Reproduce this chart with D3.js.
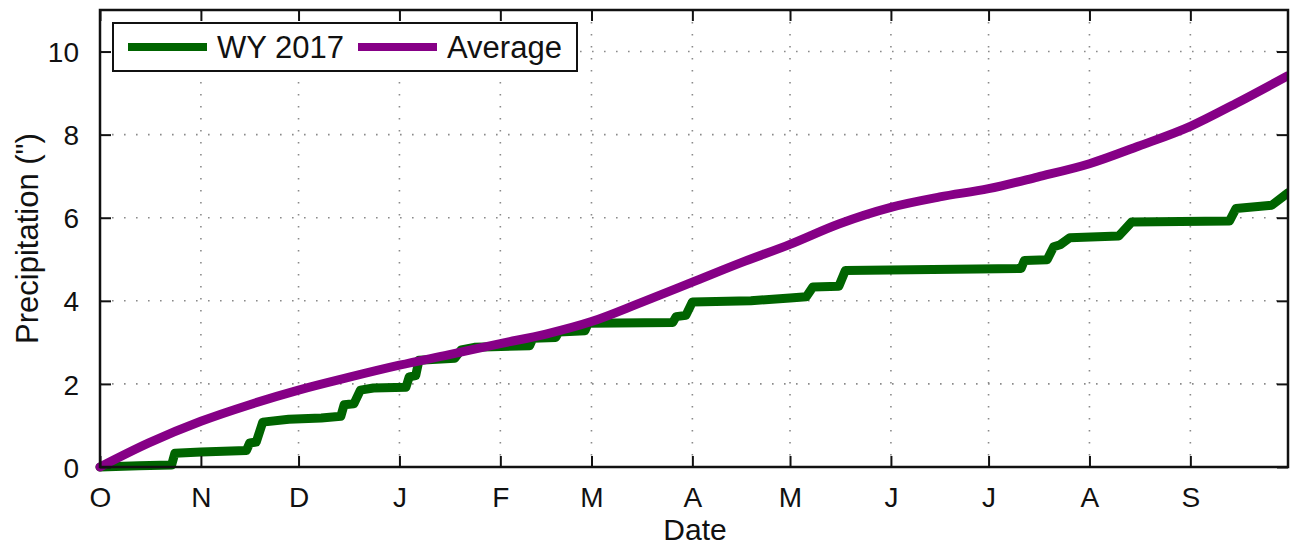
<!DOCTYPE html>
<html>
<head>
<meta charset="utf-8">
<script src="https://cdn.jsdelivr.net/npm/d3@7"></script>
<style>
  html, body { margin: 0; padding: 0; background: #fff; }
  svg { display: block; font-family: "Liberation Sans", Arial, sans-serif; }
</style>
</head>
<body>
<svg id="chart" width="1293" height="545"></svg>
<script>
// ---------- DATA ----------
const monthStarts = ["2016-10-01","2016-11-01","2016-12-01","2017-01-01","2017-02-01","2017-03-01",
                     "2017-04-01","2017-05-01","2017-06-01","2017-07-01","2017-08-01","2017-09-01"];
const monthLabels = ["O","N","D","J","F","M","A","M","J","J","A","S"];
const yTicks = [0, 2, 4, 6, 8, 10];

const avgDates = ["2016-10-01","2016-10-16","2016-11-01","2016-11-16","2016-12-01","2016-12-16",
                  "2017-01-01","2017-01-16","2017-02-01","2017-02-15","2017-03-01","2017-03-16",
                  "2017-04-01","2017-04-16","2017-05-01","2017-05-16","2017-06-01","2017-06-16",
                  "2017-07-01","2017-07-16","2017-08-01","2017-08-16","2017-09-01","2017-09-15","2017-10-01"];
const avgValues = [0, 0.58, 1.10, 1.50, 1.85, 2.15,
                   2.45, 2.70, 2.97, 3.20, 3.50, 3.95,
                   4.45, 4.92, 5.36, 5.85, 6.25, 6.50,
                   6.70, 6.98, 7.30, 7.72, 8.20, 8.75, 9.42];

const wyDates = ["2016-10-01","2016-10-13","2016-10-23","2016-10-24","2016-11-01","2016-11-15","2016-11-16",
                 "2016-11-18","2016-11-20","2016-11-28","2016-12-08","2016-12-14","2016-12-15","2016-12-18",
                 "2016-12-20","2016-12-24","2017-01-03","2017-01-04","2017-01-06","2017-01-07","2017-01-18",
                 "2017-01-20","2017-01-24","2017-02-10","2017-02-11","2017-02-18","2017-02-19","2017-02-27",
                 "2017-02-28","2017-03-26","2017-03-27","2017-03-30","2017-04-01","2017-04-19","2017-05-01",
                 "2017-05-06","2017-05-08","2017-05-16","2017-05-18","2017-07-04","2017-07-11","2017-07-12",
                 "2017-07-19","2017-07-21","2017-07-23","2017-07-26","2017-08-10","2017-08-14","2017-09-13",
                 "2017-09-15","2017-09-26","2017-10-01"];
const wyValues = [0, 0.03, 0.05, 0.33, 0.36, 0.40, 0.58,
                  0.60, 1.08, 1.15, 1.18, 1.22, 1.50, 1.52,
                  1.85, 1.90, 1.92, 2.17, 2.20, 2.57, 2.62,
                  2.82, 2.88, 2.92, 3.10, 3.12, 3.25, 3.28,
                  3.46, 3.48, 3.62, 3.65, 3.97, 4.00, 4.07,
                  4.10, 4.33, 4.35, 4.73, 4.77, 4.78, 4.97,
                  4.99, 5.30, 5.35, 5.52, 5.56, 5.90, 5.92,
                  6.22, 6.30, 6.60];

const seriesNames = ["WY 2017", "Average"];
const seriesColors = ["#006400", "#860086"];

// ---------- LAYOUT ----------
const parse = d3.timeParse("%Y-%m-%d");
const svg = d3.select("#chart");
const L = 100, R = 1288, T = 10, B = 467;

const x = d3.scaleTime().domain([parse("2016-10-01"), parse("2017-10-01")]).range([L, R]);
const y = d3.scaleLinear().domain([0, 11]).range([B, T]);

const monthDates = monthStarts.map(parse);

// grid
const grid = svg.append("g").attr("class", "grid");
grid.selectAll("line.vg").data(monthDates.slice(1)).join("line")
  .attr("x1", d => x(d)).attr("x2", d => x(d)).attr("y1", T).attr("y2", B)
  .attr("stroke", "#8a8a8a").attr("stroke-width", 1.6).attr("stroke-dasharray", "1.6,10.4");
grid.selectAll("line.hg").data(yTicks.slice(1)).join("line")
  .attr("y1", d => y(d)).attr("y2", d => y(d)).attr("x1", L).attr("x2", R)
  .attr("stroke", "#8a8a8a").attr("stroke-width", 1.6).attr("stroke-dasharray", "1.6,10.4");

// lines
const avgData = avgDates.map((d, i) => ({ date: parse(d), v: avgValues[i] }));
const wyData = wyDates.map((d, i) => ({ date: parse(d), v: wyValues[i] }));

const lineSmooth = d3.line().x(d => x(d.date)).y(d => y(d.v)).curve(d3.curveMonotoneX);
const lineStep = d3.line().x(d => x(d.date)).y(d => y(d.v));

svg.append("clipPath").attr("id", "clip")
  .append("rect").attr("x", L - 6).attr("y", T).attr("width", R - L + 6).attr("height", B - T + 6);

const plot = svg.append("g").attr("clip-path", "url(#clip)");
plot.append("path").datum(wyData).attr("d", lineStep)
  .attr("fill", "none").attr("stroke", seriesColors[0]).attr("stroke-width", 9)
  .attr("stroke-linejoin", "round").attr("stroke-linecap", "round");
plot.append("path").datum(avgData).attr("d", lineSmooth)
  .attr("fill", "none").attr("stroke", seriesColors[1]).attr("stroke-width", 9)
  .attr("stroke-linejoin", "round").attr("stroke-linecap", "round");

// axes (ticks inward)
const tickLen = 11;
const fmtMonth = (d, i) => monthLabels[i];

const xAxisB = svg.append("g").attr("transform", `translate(0,${B})`)
  .call(d3.axisBottom(x).tickValues(monthDates).tickFormat(fmtMonth).tickSizeInner(-tickLen).tickSizeOuter(0).tickPadding(20));
const xAxisT = svg.append("g").attr("transform", `translate(0,${T})`)
  .call(d3.axisTop(x).tickValues(monthDates).tickFormat("").tickSizeInner(-tickLen).tickSizeOuter(0));
const yAxisL = svg.append("g").attr("transform", `translate(${L},0)`)
  .call(d3.axisLeft(y).tickValues(yTicks).tickFormat(d3.format("d")).tickSizeInner(-tickLen).tickSizeOuter(0).tickPadding(21));
const yAxisR = svg.append("g").attr("transform", `translate(${R},0)`)
  .call(d3.axisRight(y).tickValues(yTicks).tickFormat("").tickSizeInner(-tickLen).tickSizeOuter(0));

[xAxisB, xAxisT, yAxisL, yAxisR].forEach(g => {
  g.select(".domain").remove();
  g.selectAll(".tick line").attr("stroke", "#111").attr("stroke-width", 2);
  g.selectAll(".tick text").attr("fill", "#111").attr("font-size", 28)
    .attr("font-family", "'Liberation Sans', Arial, sans-serif");
});
yAxisL.selectAll(".tick text").attr("dy", "0.36em");

// frame
svg.append("rect").attr("x", L).attr("y", T).attr("width", R - L).attr("height", B - T)
  .attr("fill", "none").attr("stroke", "#111").attr("stroke-width", 2.5);

// axis titles
svg.append("text").attr("x", 695).attr("y", 540).attr("text-anchor", "middle")
  .attr("font-size", 30).attr("fill", "#111").text("Date");
svg.append("text").attr("transform", `translate(38,${(T + B) / 2}) rotate(-90)`)
  .attr("text-anchor", "middle").attr("font-size", 31).attr("fill", "#111").text("Precipitation (\")");

// legend
const leg = svg.append("g");
leg.append("rect").attr("x", 113).attr("y", 23).attr("width", 464).attr("height", 48)
  .attr("fill", "#fff").attr("stroke", "#111").attr("stroke-width", 2);
const legItems = [{ x1: 128, x2: 207, tx: 217 }, { x1: 358, x2: 437, tx: 447 }];
legItems.forEach((it, i) => {
  leg.append("line").attr("x1", it.x1).attr("x2", it.x2).attr("y1", 47).attr("y2", 47)
    .attr("stroke", seriesColors[i]).attr("stroke-width", 8);
  leg.append("text").attr("x", it.tx).attr("y", 58).attr("font-size", 31).attr("fill", "#111")
    .text(seriesNames[i]);
});
</script>
</body>
</html>
